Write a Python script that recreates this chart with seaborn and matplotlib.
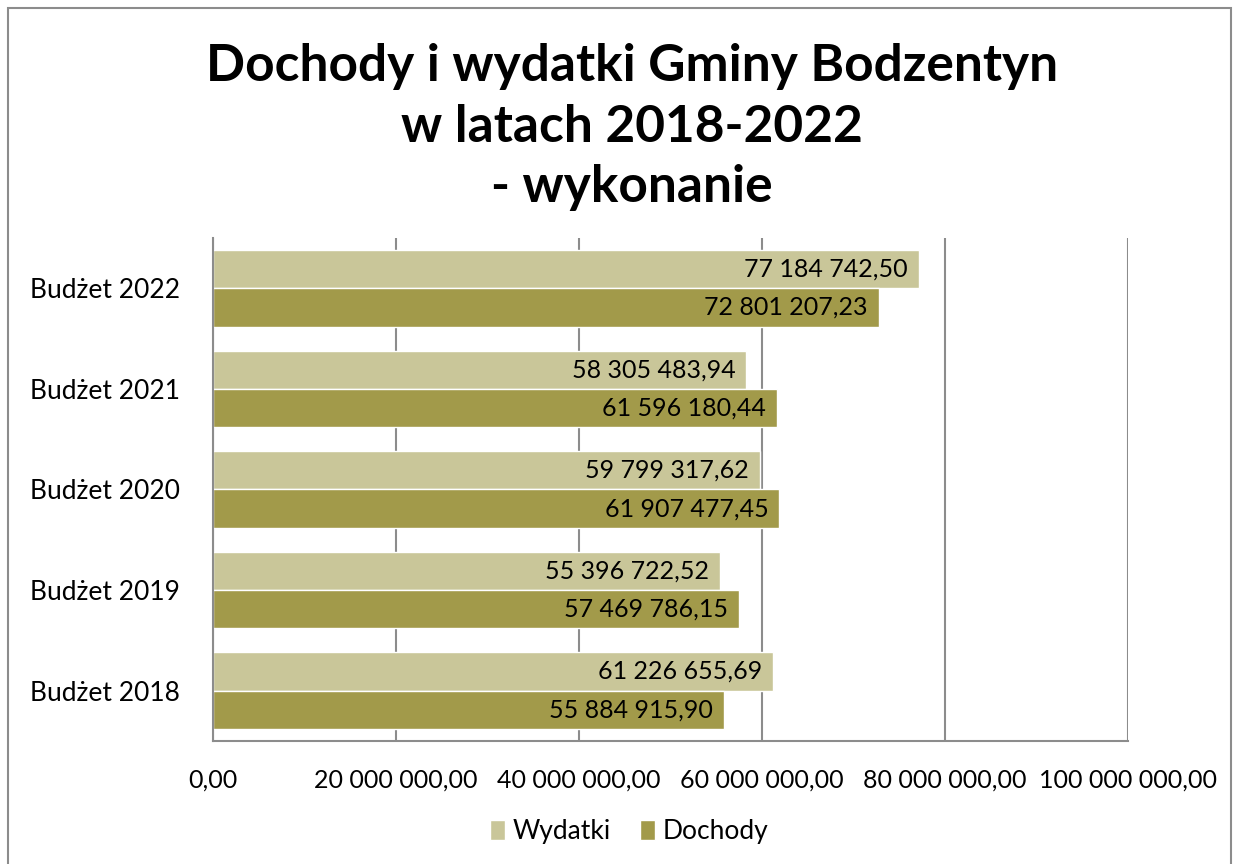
import pandas as pd
import numpy as np
import seaborn as sns
import matplotlib.pyplot as plt
from matplotlib.patches import Rectangle

# data
budzety = ['Budżet 2022', 'Budżet 2021', 'Budżet 2020', 'Budżet 2019', 'Budżet 2018']
wydatki = [77184742.50, 58305483.94, 59799317.62, 55396722.52, 61226655.69]
dochody = [72801207.23, 61596180.44, 61907477.45, 57469786.15, 55884915.90]
serie = ['Wydatki', 'Dochody']
kolory = ['#C9C699', '#A29A4A']

df = pd.DataFrame({
    'budzet': budzety * 2,
    'seria': ['Wydatki'] * 5 + ['Dochody'] * 5,
    'kwota': wydatki + dochody,
})


def pl_format(v):
    # polish style: space as thousands separator, comma for decimals
    return f'{v:,.2f}'.replace(',', ' ').replace('.', ',')


sns.set_style('white')
plt.rcParams['font.family'] = ['Lato', 'DejaVu Sans']
plt.rcParams['text.color'] = 'black'
plt.rcParams['xtick.color'] = 'black'
plt.rcParams['ytick.color'] = 'black'

fig = plt.figure(figsize=(12.36, 8.64), dpi=100)
ax = fig.add_axes([0.1723, 0.1424, 0.7403, 0.5821])

sns.barplot(data=df, x='kwota', y='budzet', hue='seria', order=budzety,
            hue_order=serie, palette=kolory, orient='h', width=0.76,
            saturation=1, ax=ax, legend=True)

# value labels inside the bar ends
for cont in ax.containers:
    txts = ax.bar_label(cont, labels=[pl_format(b.get_width()) for b in cont],
                        padding=-8, fontsize=18, color='black')
    for t in txts:
        t.set_ha('right')

ax.set_xlim(0, 100_000_000)
ax.set_ylim(4.5, -0.5)
ticks = np.arange(0, 100_000_001, 20_000_000)
ax.set_xticks(ticks)
ax.set_xticklabels([pl_format(t) for t in ticks], fontsize=18)
ax.tick_params(axis='x', pad=20, length=0)
ax.tick_params(axis='y', labelsize=19, pad=24, length=0)
ax.set_xlabel('')
ax.set_ylabel('')

ax.grid(axis='x', color='#8c8c8c', linewidth=1.5)
ax.set_axisbelow(True)
for s in ['top', 'right']:
    ax.spines[s].set_visible(False)
for s in ['left', 'bottom']:
    ax.spines[s].set_color('#8c8c8c')
    ax.spines[s].set_linewidth(1.5)

leg = ax.legend(loc='center', bbox_to_anchor=(0.455, -0.18), ncol=2, frameon=False,
                fontsize=19, handlelength=0.55, handleheight=0.8, handletextpad=0.3,
                columnspacing=1.1)

fig.text(0.511, 0.853, 'Dochody i wydatki Gminy Bodzentyn\nw latach 2018-2022\n- wykonanie',
         ha='center', va='center', fontsize=37, fontweight='bold', linespacing=1.35,
         color='black')

# outer chart border
fig.patches.append(Rectangle((8 / 1236, -0.1), 1223 / 1236, 1.1 - 8 / 864,
                             transform=fig.transFigure, fill=False,
                             edgecolor='#8c8c8c', linewidth=1.5))

fig.savefig('out.png', dpi=100)
